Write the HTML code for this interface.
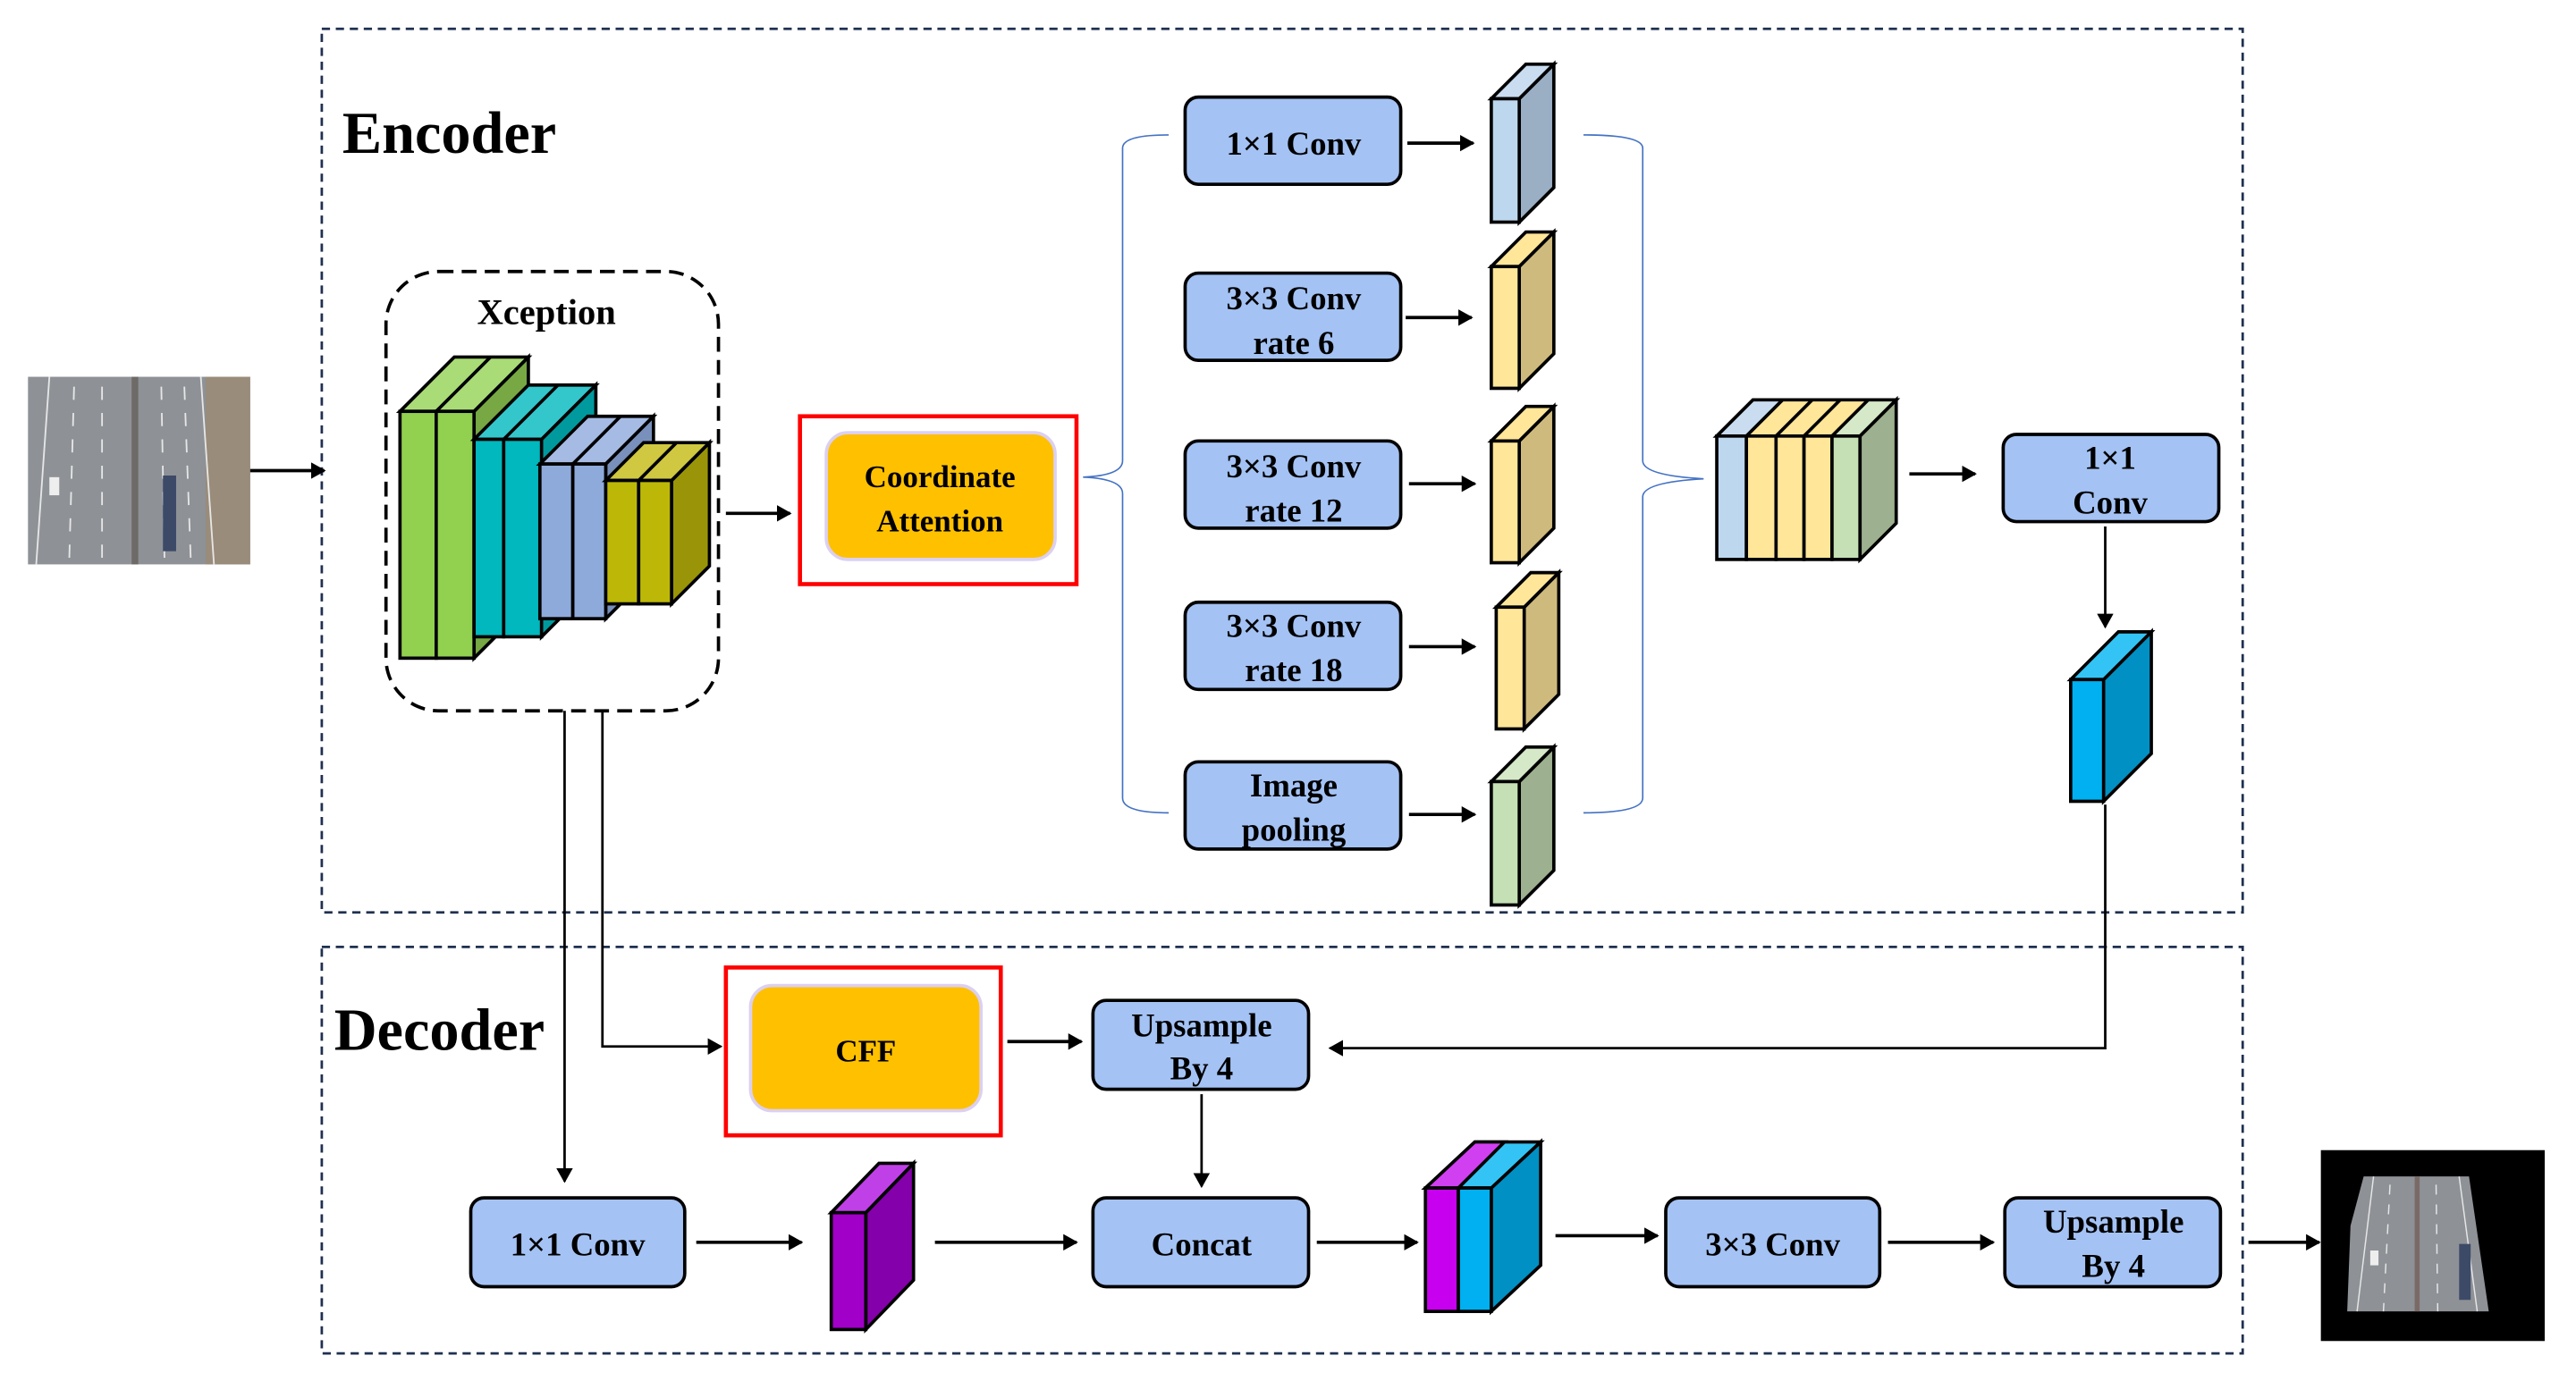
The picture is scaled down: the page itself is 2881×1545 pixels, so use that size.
<!DOCTYPE html>
<html><head><meta charset="utf-8"><style>html,body{margin:0;padding:0;background:#fff}svg{display:block}</style></head>
<body>
<svg width="2881" height="1545" viewBox="0 0 1565 839.3" preserveAspectRatio="none" xmlns="http://www.w3.org/2000/svg" font-family="'Liberation Serif',serif" font-weight="bold">
<defs>
<marker id="a" markerWidth="10" markerHeight="10" refX="8" refY="5" orient="auto" markerUnits="userSpaceOnUse"><path d="M0,0 L9,5 L0,10 Z" fill="#000"/></marker>
</defs>
<rect width="1565" height="840" fill="#fff"/>
<!-- dashed boxes -->
<rect x="195.5" y="17.5" width="1167" height="537" fill="none" stroke="#1f3050" stroke-width="1.5" stroke-dasharray="5,3.5"/>
<rect x="195.5" y="575.5" width="1167" height="247" fill="none" stroke="#1f3050" stroke-width="1.5" stroke-dasharray="5,3.5"/>
<text x="208" y="93" font-size="36">Encoder</text>
<text x="203" y="638" font-size="36">Decoder</text>

<!-- input image -->
<rect x="17" y="229" width="135" height="114" fill="#8e9196"/>
<rect x="17" y="229" width="135" height="114" fill="none"/>
<rect x="80" y="229" width="4" height="114" fill="#6d6a68"/>
<rect x="125" y="229" width="27" height="114" fill="#9a8c7a"/>
<g stroke="#e6e6e6" stroke-width="1">
<line x1="30" y1="229" x2="22" y2="343"/><line x1="45" y1="235" x2="42" y2="343" stroke-dasharray="8,8"/><line x1="62" y1="235" x2="62" y2="343" stroke-dasharray="8,8"/>
<line x1="98" y1="235" x2="100" y2="343" stroke-dasharray="8,8"/><line x1="112" y1="235" x2="116" y2="343" stroke-dasharray="8,8"/><line x1="122" y1="229" x2="130" y2="343"/>
</g>
<rect x="30" y="290" width="6" height="11" fill="#eee"/>
<rect x="99" y="289" width="8" height="46" fill="#3c4a68"/>
<line x1="152" y1="286" x2="197" y2="286" stroke="#000" stroke-width="2" marker-end="url(#a)"/>

<!-- Xception -->
<rect x="234.5" y="165" width="202" height="267" rx="32" fill="none" stroke="#000" stroke-width="2" stroke-dasharray="9,5"/>
<text x="332" y="197" font-size="22" text-anchor="middle">Xception</text>
<g stroke="#000" stroke-width="2" stroke-linejoin="miter">
<!-- green -->
<polygon points="288,250 321,217 321,367 288,400" fill="#77a843"/>
<polygon points="243,250 276,217 321,217 288,250" fill="#a9db76"/>
<line x1="265" y1="250" x2="298" y2="217"/>
<rect x="243" y="250" width="22" height="150" fill="#92d050"/><rect x="265" y="250" width="23" height="150" fill="#92d050"/>
<!-- cyan -->
<polygon points="329,267 362,234 362,354 329,387" fill="#009a9e"/>
<polygon points="288,267 321,234 362,234 329,267" fill="#33c7cc"/>
<line x1="306" y1="267" x2="339" y2="234"/>
<rect x="288" y="267" width="18" height="120" fill="#00b8bd"/><rect x="306" y="267" width="23" height="120" fill="#00b8bd"/>
<!-- blue -->
<polygon points="368,282 397,253 397,347 368,376" fill="#7890bb"/>
<polygon points="328,282 357,253 397,253 368,282" fill="#a6bbe3"/>
<line x1="348" y1="282" x2="377" y2="253"/>
<rect x="328" y="282" width="20" height="94" fill="#8eaadb"/><rect x="348" y="282" width="20" height="94" fill="#8eaadb"/>
<!-- olive -->
<polygon points="408,292 431,269 431,344 408,367" fill="#9a9508"/>
<polygon points="368,292 391,269 431,269 408,292" fill="#cfc840"/>
<line x1="388" y1="292" x2="411" y2="269"/>
<rect x="368" y="292" width="20" height="75" fill="#bdb808"/><rect x="388" y="292" width="20" height="75" fill="#bdb808"/>
</g>
<line x1="441" y1="312" x2="480" y2="312" stroke="#000" stroke-width="2" marker-end="url(#a)"/>

<!-- Coordinate Attention -->
<rect x="486" y="253" width="168" height="102" fill="none" stroke="#ff0000" stroke-width="2.5"/>
<rect x="502" y="263" width="139" height="77" rx="13" fill="#ffc000" stroke="#dcd0f0" stroke-width="2"/>
<text x="571" y="296" font-size="19" text-anchor="middle">Coordinate</text>
<text x="571" y="323" font-size="19" text-anchor="middle">Attention</text>

<!-- braces -->
<g fill="none" stroke="#4472c4" stroke-width="0.9">
<path d="M710,82 Q682,82 682,90 L682,280 Q682,289 658,290 Q682,291 682,300 L682,485 Q682,494 710,494"/>
<path d="M962,82 Q998,82 998,90 L998,280 Q998,289 1035,291 Q998,293 998,302 L998,485 Q998,494 962,494"/>
</g>

<!-- ASPP boxes -->
<g fill="#a4c2f4" stroke="#000" stroke-width="2">
<rect x="720" y="59" width="131" height="53" rx="8"/>
<rect x="720" y="166" width="131" height="53" rx="8"/>
<rect x="720" y="268" width="131" height="53" rx="8"/>
<rect x="720" y="366" width="131" height="53" rx="8"/>
<rect x="720" y="463" width="131" height="53" rx="8"/>
</g>
<g font-size="20" text-anchor="middle">
<text x="786" y="94">1×1 Conv</text>
<text x="786" y="188">3×3 Conv</text><text x="786" y="215">rate 6</text>
<text x="786" y="290">3×3 Conv</text><text x="786" y="317">rate 12</text>
<text x="786" y="387">3×3 Conv</text><text x="786" y="414">rate 18</text>
<text x="786" y="484">Image</text><text x="786" y="511">pooling</text>
</g>
<g stroke="#000" stroke-width="2" marker-end="url(#a)">
<line x1="855" y1="87" x2="895" y2="87"/>
<line x1="854" y1="193" x2="894" y2="193"/>
<line x1="856" y1="294" x2="896" y2="294"/>
<line x1="856" y1="393" x2="896" y2="393"/>
<line x1="856" y1="495" x2="896" y2="495"/>
</g>
<!-- thin blocks -->
<g stroke="#000" stroke-width="2">
<polygon points="923,60 944,39 944,114 923,135" fill="#9aaec4"/><polygon points="906,60 927,39 944,39 923,60" fill="#c9dcf0"/><rect x="906" y="60" width="17" height="75" fill="#bdd7ee"/>
<polygon points="923,162 944,141 944,215 923,236" fill="#cfba7d"/><polygon points="906,162 927,141 944,141 923,162" fill="#ffe699"/><rect x="906" y="162" width="17" height="74" fill="#ffe699"/>
<polygon points="923,268 944,247 944,321 923,342" fill="#cfba7d"/><polygon points="906,268 927,247 944,247 923,268" fill="#ffe699"/><rect x="906" y="268" width="17" height="74" fill="#ffe699"/>
<polygon points="926,369 947,348 947,422 926,443" fill="#cfba7d"/><polygon points="909,369 930,348 947,348 926,369" fill="#ffe699"/><rect x="909" y="369" width="17" height="74" fill="#ffe699"/>
<polygon points="923,475 944,454 944,529 923,550" fill="#9db08f"/><polygon points="906,475 927,454 944,454 923,475" fill="#d5e8c8"/><rect x="906" y="475" width="17" height="75" fill="#c5e0b4"/>
</g>
<!-- concat block -->
<g stroke="#000" stroke-width="2">
<polygon points="1130,265 1152,243 1152,318 1130,340" fill="#9db08f"/>
<polygon points="1043,265 1065,243 1152,243 1130,265" fill="#ffe699"/>
<polygon points="1043,265 1065,243 1083,243 1061,265" fill="#c9dcf0"/>
<polygon points="1113,265 1135,243 1152,243 1130,265" fill="#d5e8c8"/>
<line x1="1079" y1="265" x2="1101" y2="243"/><line x1="1096" y1="265" x2="1118" y2="243"/>
<rect x="1043" y="265" width="18" height="75" fill="#bdd7ee"/>
<rect x="1061" y="265" width="18" height="75" fill="#ffe699"/>
<rect x="1079" y="265" width="17" height="75" fill="#ffe699"/>
<rect x="1096" y="265" width="17" height="75" fill="#ffe699"/>
<rect x="1113" y="265" width="17" height="75" fill="#c5e0b4"/>
</g>
<line x1="1160" y1="288" x2="1200" y2="288" stroke="#000" stroke-width="2" marker-end="url(#a)"/>
<rect x="1217" y="264" width="131" height="53" rx="8" fill="#a4c2f4" stroke="#000" stroke-width="2"/>
<text x="1282" y="285" font-size="20" text-anchor="middle">1×1</text>
<text x="1282" y="312" font-size="20" text-anchor="middle">Conv</text>
<line x1="1279" y1="320" x2="1279" y2="381" stroke="#000" stroke-width="1.5" marker-end="url(#a)"/>
<g stroke="#000" stroke-width="2">
<polygon points="1278,413 1307,384 1307,458 1278,487" fill="#0090c4"/>
<polygon points="1258,413 1287,384 1307,384 1278,413" fill="#33c4f5"/>
<rect x="1258" y="413" width="20" height="74" fill="#00b0f0"/>
</g>
<polyline points="1279,489 1279,637 808,637" fill="none" stroke="#000" stroke-width="1.5" marker-end="url(#a)"/>

<!-- decoder -->
<line x1="343" y1="432" x2="343" y2="718" stroke="#000" stroke-width="1.5" marker-end="url(#a)"/>
<polyline points="366,432 366,636 438,636" fill="none" stroke="#000" stroke-width="1.5" marker-end="url(#a)"/>
<rect x="441" y="588" width="167" height="102" fill="none" stroke="#ff0000" stroke-width="2.5"/>
<rect x="456" y="599" width="140" height="76" rx="13" fill="#ffc000" stroke="#dcd0f0" stroke-width="2"/>
<text x="526" y="645" font-size="19" text-anchor="middle">CFF</text>
<line x1="612" y1="633" x2="657" y2="633" stroke="#000" stroke-width="2" marker-end="url(#a)"/>
<g fill="#a4c2f4" stroke="#000" stroke-width="2">
<rect x="664" y="608" width="131" height="54" rx="8"/>
<rect x="286" y="728" width="130" height="54" rx="8"/>
<rect x="664" y="728" width="131" height="54" rx="8"/>
<rect x="1012" y="728" width="130" height="54" rx="8"/>
<rect x="1218" y="728" width="131" height="54" rx="8"/>
</g>
<g font-size="20" text-anchor="middle">
<text x="730" y="630">Upsample</text><text x="730" y="656">By 4</text>
<text x="351" y="763">1×1 Conv</text>
<text x="730" y="763">Concat</text>
<text x="1077" y="763">3×3 Conv</text>
<text x="1284" y="749">Upsample</text><text x="1284" y="776">By 4</text>
</g>
<line x1="730" y1="665" x2="730" y2="721" stroke="#000" stroke-width="1.5" marker-end="url(#a)"/>
<g stroke="#000" stroke-width="2" marker-end="url(#a)">
<line x1="423" y1="755" x2="487" y2="755"/>
<line x1="568" y1="755" x2="654" y2="755"/>
<line x1="800" y1="755" x2="861" y2="755"/>
<line x1="945" y1="751" x2="1007" y2="751"/>
<line x1="1147" y1="755" x2="1211" y2="755"/>
<line x1="1366" y1="755" x2="1409" y2="755"/>
</g>
<g stroke="#000" stroke-width="2">
<polygon points="526,737 555,707 555,778 526,808" fill="#8400aa"/>
<polygon points="505,737 534,707 555,707 526,737" fill="#c040e8"/>
<rect x="505" y="737" width="21" height="71" fill="#a000c8"/>
<polygon points="906,722 936,694 936,769 906,797" fill="#0090c4"/>
<polygon points="866,722 896,694 936,694 906,722" fill="#33c4f5"/>
<polygon points="866,722 896,694 914,694 886,722" fill="#d040f0"/>
<rect x="866" y="722" width="20" height="75" fill="#c800f0"/>
<rect x="886" y="722" width="20" height="75" fill="#00b0f0"/>
</g>
<!-- output image -->
<rect x="1410" y="699" width="136" height="116" fill="#000"/>
<polygon points="1436,715 1500,715 1512,797 1426,797 1428,745" fill="#8e9196"/>
<rect x="1467" y="715" width="3" height="82" fill="#7a6a66"/>
<g stroke="#e6e6e6" stroke-width="0.8">
<line x1="1442" y1="715" x2="1432" y2="797"/><line x1="1452" y1="720" x2="1448" y2="797" stroke-dasharray="6,6"/>
<line x1="1480" y1="720" x2="1481" y2="797" stroke-dasharray="6,6"/><line x1="1494" y1="715" x2="1505" y2="797"/>
</g>
<rect x="1440" y="760" width="5" height="9" fill="#eee"/>
<rect x="1494" y="756" width="7" height="34" fill="#3c4a68"/>
</svg>
</body></html>
